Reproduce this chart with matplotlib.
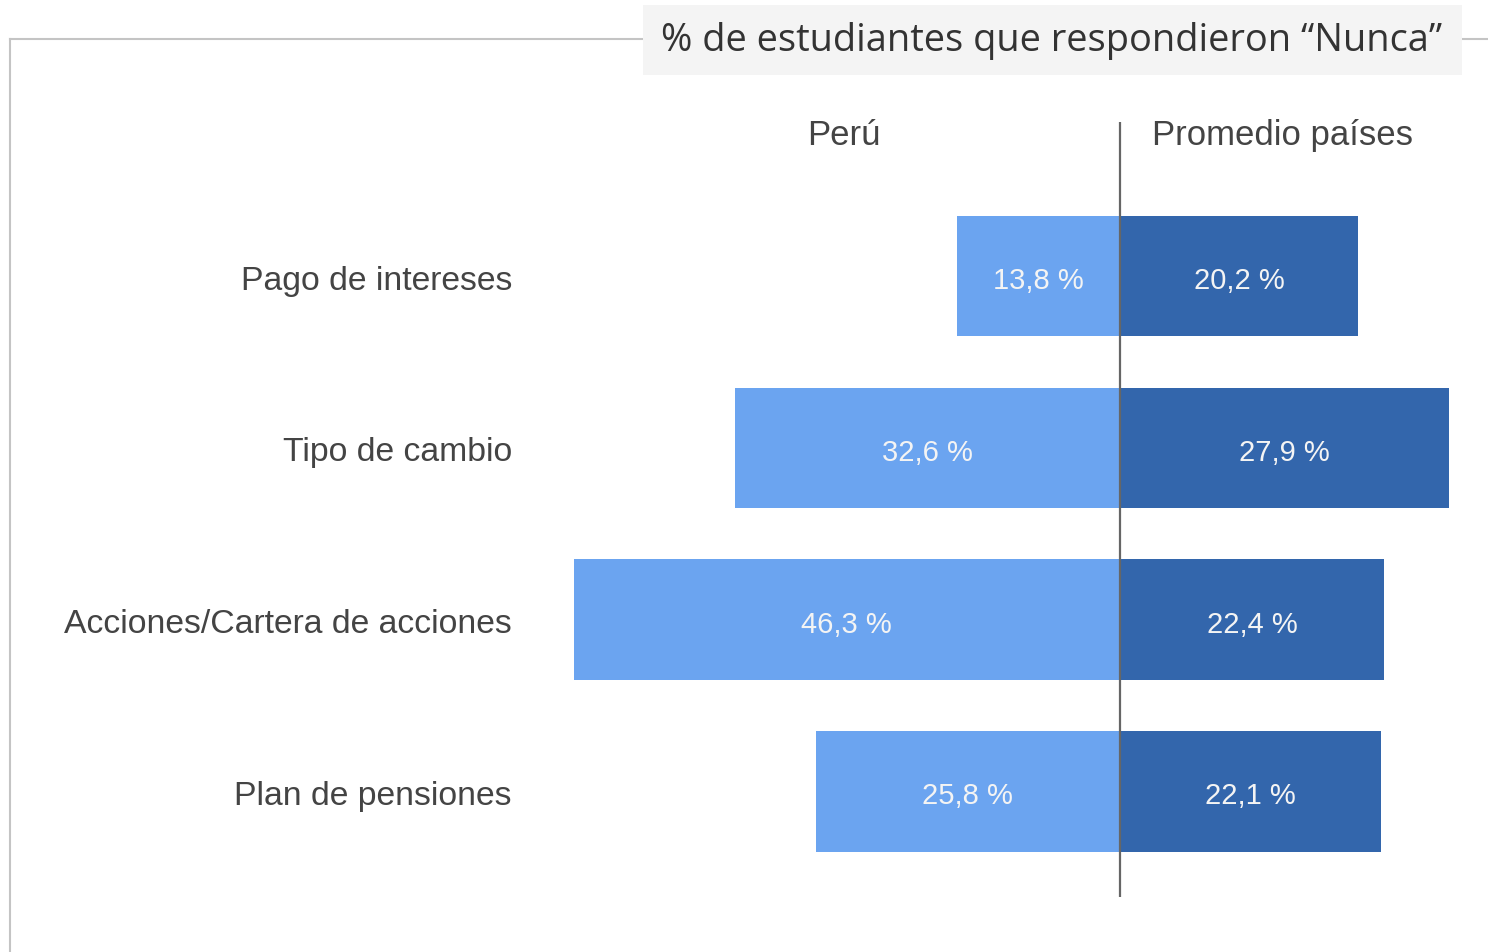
import matplotlib
matplotlib.use("Agg")
import matplotlib.pyplot as plt
from matplotlib.patches import Rectangle
from matplotlib.lines import Line2D

categories = ["Pago de intereses", "Tipo de cambio",
              "Acciones/Cartera de acciones", "Plan de pensiones"]
peru = [13.8, 32.6, 46.3, 25.8]
promedio = [20.2, 27.9, 22.4, 22.1]
series_names = ["Perú", "Promedio países"]
title = "% de estudiantes que respondieron \u201cNunca\u201d"

LIGHT = "#6ba4f0"
DARK = "#3366ac"
TEXT = "#444444"

W, H = 1488, 952
fig = plt.figure(figsize=(W / 100, H / 100), dpi=100)

# outer frame, partly hidden by the title box
fig.add_artist(Line2D([10 / W, 1.0], [1 - 39 / H] * 2, color="#c4c4c4",
                      lw=1.5, zorder=1))
fig.add_artist(Line2D([10 / W] * 2, [0, 1 - 39 / H], color="#c4c4c4",
                      lw=1.5, zorder=1))
fig.add_artist(Rectangle((643 / W, 1 - 75 / H), (1462 - 643) / W, 70 / H,
                         facecolor="#f4f4f4", edgecolor="none", zorder=3,
                         transform=fig.transFigure))
fig.text(1052 / W, 1 - 41 / H, title, ha="center", va="center", zorder=4,
         fontsize=27.4, family="Open Sans", color="#333333")

# axes covers the whole figure; x in %, y in category steps
px = 11.8
step = 171.8
ax = fig.add_axes([0, 0, 1, 1])
ax.set_xlim(-1120 / px, (W - 1120) / px)
ax.set_ylim((H - 276) / step, -276 / step)
ax.axis("off")

ys = range(len(categories))
ax.barh(ys, [-v for v in peru], height=0.70, color=LIGHT)
ax.barh(ys, promedio, height=0.70, color=DARK)
ax.vlines(0, -154 / step, (897 - 276) / step, color="#666666", lw=1.6)

dy = 5 / step
for y, cat, a, b in zip(ys, categories, peru, promedio):
    ax.text((512 - 1120) / px, y + dy, cat, ha="right", va="center",
            fontsize=24.3, family="Liberation Sans", color=TEXT)
    ax.text(-a / 2, y + dy, f"{a:.1f} %".replace(".", ","), ha="center",
            va="center", fontsize=21, family="Liberation Sans", color="#f4f4f4")
    ax.text(b / 2, y + dy, f"{b:.1f} %".replace(".", ","), ha="center",
            va="center", fontsize=21, family="Liberation Sans", color="#f4f4f4")

for xc, name in zip([844, 1282], series_names):
    ax.text((xc - 1120) / px, -141 / step, name, ha="center",
            va="center", fontsize=25, family="Liberation Sans", color=TEXT)

fig.savefig("out.png", dpi=100, facecolor="white")
